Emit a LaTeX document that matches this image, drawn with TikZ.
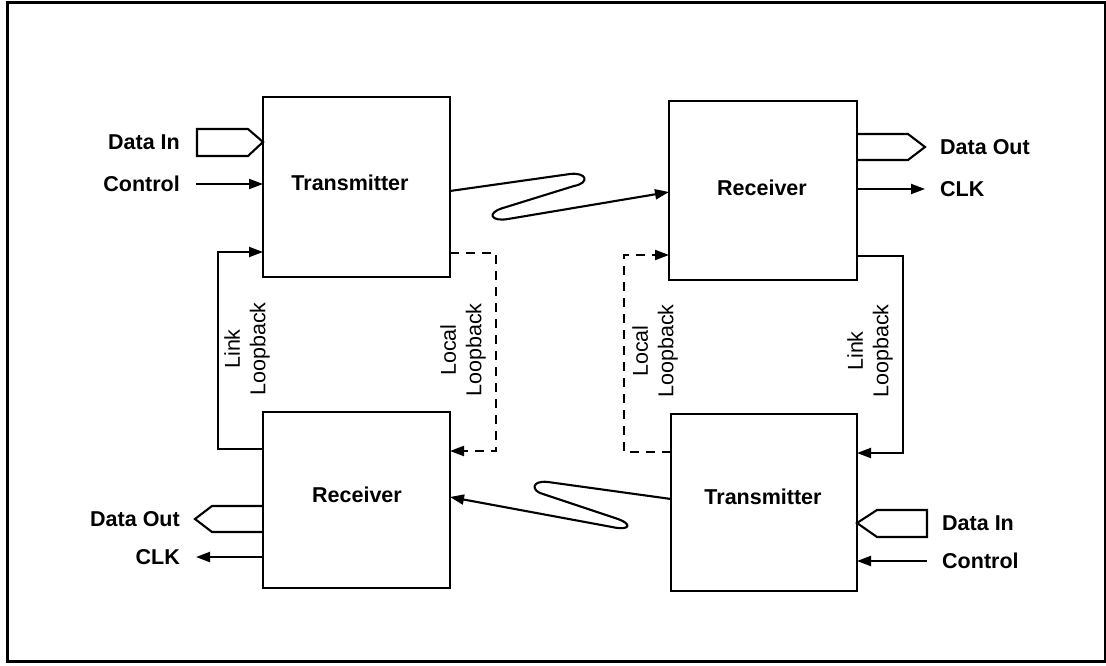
\documentclass[tikz,border=0pt]{standalone}
\usepackage{fontspec}
\setmainfont{Liberation Sans}
\usetikzlibrary{arrows.meta}

\tikzset{
  unit/.style={draw, line width=2.3pt, outer sep=0pt, inner sep=0pt},
  title/.style={font=\fontsize{21.5}{25}\selectfont\bfseries},
  sig/.style={font=\fontsize{21.5}{25}\selectfont\bfseries, inner sep=0pt},
  loop/.style={font=\fontsize{21.5}{25.5}\selectfont, rotate=90, align=center, inner sep=0pt},
  wire/.style={line width=2.1pt},
  arr/.style={wire, -{Triangle[length=14pt,width=10pt]}},
  dashline/.style={line width=2.1pt, dash pattern=on 9pt off 7pt},
  darr/.style={dashline, -{Triangle[length=14pt,width=10pt]}},
  bus/.style={line width=2.1pt, line join=miter},
}

\begin{document}
\begin{tikzpicture}[x=1pt, y=-1pt]
  \useasboundingbox (0,0) rectangle (1106,666);
  % outer frame
  \draw[line width=3pt] (7,3) rectangle (1105,661);

  % the four units
  \node[unit, minimum width=187pt, minimum height=180pt] (tx1) at (356.5,187) {};
  \node[unit, minimum width=188pt, minimum height=179pt] (rx1) at (763,190.5) {};
  \node[unit, minimum width=187pt, minimum height=176pt] (rx2) at (356.5,500) {};
  \node[unit, minimum width=186pt, minimum height=177pt] (tx2) at (764,502.5) {};

  \node[title] (tx1t) at (350,183) {Transmitter};
  \node[title] (rx1t) at (762,188) {Receiver};
  \node[title] (rx2t) at (357,495) {Receiver};
  \node[title] (tx2t) at (763,497) {Transmitter};

  % ---- top-left transmitter inputs
  \node[sig, anchor=east] (din1) at (180,142) {Data In};
  \node[sig, anchor=east] (ctl1) at (180,184) {Control};
  \draw[bus] (tx1.west |- 0,142) -- (248,129) -- (197,129) -- (197,156) -- (248,156) -- cycle;
  \coordinate (ctl1a) at (196,184);
  \draw[arr] (ctl1a) -- (ctl1a -| tx1.west);

  % ---- top-right receiver outputs
  \node[sig, anchor=west] (dout1) at (940,147) {Data Out};
  \node[sig, anchor=west] (clk1) at (940,189) {CLK};
  \draw[bus] (rx1.east |- 0,134) -- (908,134) -- (925,147) -- (908,160) -- (rx1.east |- 0,160);
  \coordinate (clk1a) at (925,189);
  \draw[arr] (rx1.east |- clk1a) -- (clk1a);

  % ---- bottom-left receiver outputs
  \node[sig, anchor=east] (dout2) at (180,519) {Data Out};
  \node[sig, anchor=east] (clk2) at (180,557) {CLK};
  \draw[bus] (rx2.west |- 0,506) -- (212,506) -- (195,519) -- (212,532) -- (rx2.west |- 0,532);
  \coordinate (clk2a) at (196,557);
  \draw[arr] (rx2.west |- clk2a) -- (clk2a);

  % ---- bottom-right transmitter inputs
  \node[sig, anchor=west] (din2) at (942,523) {Data In};
  \node[sig, anchor=west] (ctl2) at (942,561) {Control};
  \draw[bus] (tx2.east |- 0,523) -- (877,510) -- (927,510) -- (927,537) -- (877,537) -- cycle;
  \coordinate (ctl2a) at (927,561);
  \draw[arr] (ctl2a) -- (ctl2a -| tx2.east);

  % ---- serial links
  \draw[arr] (tx1.east |- 0,191) -- (570,174)
    .. controls (587,172) and (590,183) .. (574,186) -- (503,208)
    .. controls (486,213) and (491,222) .. (508,219) -- (rx1.west |- 0,192);
  \draw[arr] (tx2.west |- 0,499) -- (548,482)
    .. controls (531,480) and (531,491) .. (543,494) -- (615,518)
    .. controls (634,524) and (630,531) .. (612,527) -- (rx2.east |- 0,497);

  % ---- loopback paths
  \draw[arr] (rx2.west |- 0,449) -- (218,449) -- (218,252) -- (tx1.west |- 0,252);
  \draw[darr] (tx1.east |- 0,253) -- (496,253) -- (496,451) -- (rx2.east |- 0,451);
  \draw[darr] (tx2.west |- 0,452) -- (624,452) -- (624,255) -- (rx1.west |- 0,255);
  \draw[arr] (rx1.east |- 0,256) -- (903,256) -- (903,453) -- (tx2.east |- 0,453);

  \node[loop] (ll1) at (247,349) {Link\\Loopback};
  \node[loop] (lo1) at (463,350) {Local\\Loopback};
  \node[loop] (lo2) at (655,351) {Local\\Loopback};
  \node[loop] (ll2) at (870,351) {Link\\Loopback};
\end{tikzpicture}
\end{document}
